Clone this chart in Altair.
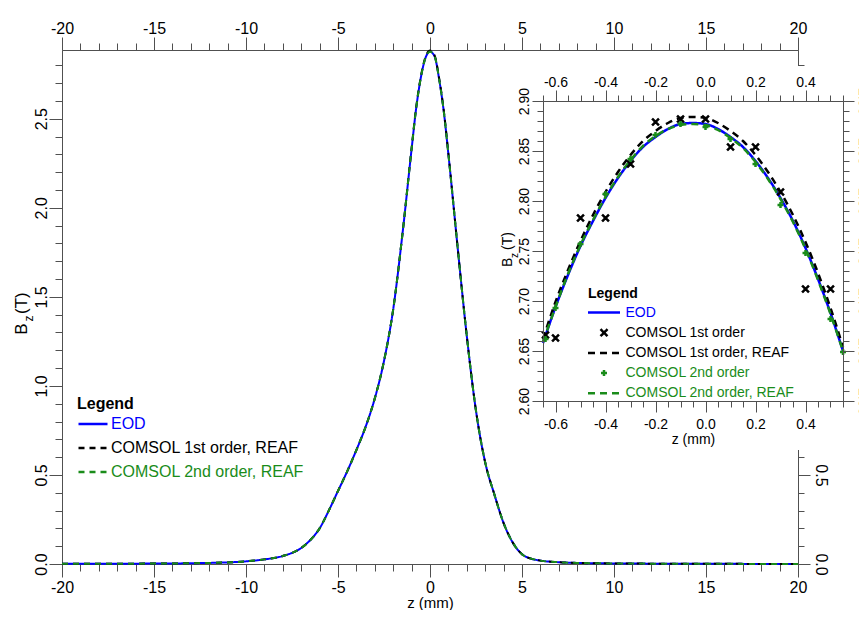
import altair as alt
import pandas as pd

# ---------------- main panel: Bz (T) along z (mm) ----------------
main_z = [-20, -18, -16, -14, -12, -11, -10, -9, -8, -7,
          -6.5, -6, -5.5, -5, -4.5, -4, -3.5, -3, -2.5, -2,
          -1.5, -1, -0.75, -0.5, -0.25, 0, 0.25, 0.5, 0.75, 1,
          1.5, 2, 2.5, 3, 3.5, 4, 4.5, 5, 5.5, 6,
          7, 8, 10, 12, 15, 20]
main_eod = [0.001, 0.001, 0.002, 0.003, 0.006, 0.009, 0.015, 0.026, 0.045, 0.09,
            0.135, 0.2, 0.3, 0.41, 0.52, 0.64, 0.77, 0.93, 1.14, 1.43,
            1.85, 2.33, 2.56, 2.73, 2.84, 2.877, 2.85, 2.72, 2.54, 2.30,
            1.78, 1.28, 0.86, 0.57, 0.39, 0.23, 0.12, 0.055, 0.03, 0.019,
            0.01, 0.006, 0.003, 0.002, 0.001, 0.0005]
main_reaf1 = [0.001, 0.001, 0.002, 0.003, 0.006, 0.009, 0.015, 0.026, 0.045, 0.09,
              0.135, 0.2, 0.3, 0.41, 0.52, 0.64, 0.77, 0.93, 1.14, 1.43,
              1.85, 2.335, 2.565, 2.735, 2.845, 2.883, 2.855, 2.725, 2.545, 2.305,
              1.78, 1.28, 0.86, 0.57, 0.39, 0.23, 0.12, 0.055, 0.03, 0.019,
              0.01, 0.006, 0.003, 0.002, 0.001, 0.0005]
main_reaf2 = [0.001, 0.001, 0.002, 0.003, 0.006, 0.009, 0.015, 0.026, 0.045, 0.09,
              0.135, 0.2, 0.3, 0.41, 0.52, 0.64, 0.77, 0.93, 1.14, 1.43,
              1.85, 2.33, 2.56, 2.73, 2.84, 2.876, 2.85, 2.72, 2.54, 2.30,
              1.78, 1.28, 0.86, 0.57, 0.39, 0.23, 0.12, 0.055, 0.03, 0.019,
              0.01, 0.006, 0.003, 0.002, 0.001, 0.0005]
main_series = ["EOD", "COMSOL 1st order, REAF", "COMSOL 2nd order, REAF"]

# ---------------- inset: zoom on the peak ----------------
inset_z = [-0.65, -0.60, -0.55, -0.50, -0.45, -0.40, -0.35, -0.30, -0.25, -0.20,
           -0.15, -0.10, -0.05, 0.00, 0.05, 0.10, 0.15, 0.20, 0.25, 0.30,
           0.35, 0.40, 0.45, 0.50, 0.55]
inset_eod = [2.658, 2.694, 2.726, 2.755, 2.780, 2.803, 2.823, 2.840, 2.854, 2.864,
             2.872, 2.877, 2.878, 2.877, 2.872, 2.864, 2.854, 2.840, 2.823, 2.803,
             2.780, 2.753, 2.722, 2.688, 2.650]
inset_reaf1 = [2.662, 2.699, 2.731, 2.760, 2.786, 2.809, 2.829, 2.846, 2.860, 2.870,
               2.878, 2.883, 2.884, 2.883, 2.878, 2.870, 2.860, 2.846, 2.829, 2.809,
               2.786, 2.759, 2.728, 2.693, 2.654]
inset_reaf2 = [2.659, 2.694, 2.727, 2.756, 2.781, 2.804, 2.824, 2.841, 2.855, 2.865,
               2.872, 2.876, 2.877, 2.876, 2.871, 2.863, 2.853, 2.839, 2.822, 2.802,
               2.779, 2.752, 2.721, 2.687, 2.650]
c1_z = [-0.64, -0.60, -0.50, -0.40, -0.30, -0.20, -0.10, 0.00, 0.10, 0.20, 0.30, 0.40, 0.50]
c1_b = [2.666, 2.663, 2.783, 2.783, 2.837, 2.879, 2.882, 2.882, 2.854, 2.854, 2.809, 2.712, 2.712]
c2_z = [-0.64, -0.60, -0.50, -0.40, -0.30, -0.20, -0.10, 0.00, 0.10, 0.20, 0.30, 0.40, 0.50, 0.55]
c2_b = [2.662, 2.693, 2.757, 2.807, 2.842, 2.866, 2.877, 2.874, 2.862, 2.837, 2.796, 2.748, 2.682, 2.649]
inset_series = ["EOD", "COMSOL 1st order", "COMSOL 1st order, REAF",
                "COMSOL 2nd order", "COMSOL 2nd order, REAF"]

# axis tick values
main_x_major = [-20, -15, -10, -5, 0, 5, 10, 15, 20]
main_x_minor = list(range(-20, 21))
main_y_major = [0.0, 0.5, 1.0, 1.5, 2.0, 2.5]
main_y_minor = [round(i * 0.1, 1) for i in range(29)]
in_x_major = [-0.6, -0.4, -0.2, 0.0, 0.2, 0.4]
in_x_minor = [round(-0.65 + i * 0.05, 2) for i in range(25)]
in_y_major = [2.60, 2.65, 2.70, 2.75, 2.80, 2.85, 2.90]
in_y_minor = [round(2.60 + i * 0.01, 2) for i in range(31)]

# ---------------- layout / style ----------------
W, H = 736, 514
FONT = "Liberation Sans"
AXC = "#505050"
BLUE = "#0000ff"
GREEN = "#1a8c1a"
BLACK = "#000000"
MINUS = "\u2212"
main_xdom, main_ydom = [-20, 20], [0, 2.886]
in_xdom, in_ydom = [-0.65, 0.55], [2.6, 2.9]
in_xrange, in_yrange = [481, 781], [351, 51]
bg = pd.DataFrame({"x": [-0.87], "x2": [0.70], "y": [2.935], "y2": [2.551]})

# inset symbols (unit = half of sqrt(symbol size) = 6 px)
IN_SIZE = 144
LINE = "M-2.667,0L2.667,0"
XMARK = "M-0.58,-0.58L0.58,0.58M-0.58,0.58L0.58,-0.58"
PLUS = "M-0.5,0L0.5,0M0,-0.5L0,0.5"


def sc(dom, rng=None):
    if rng is None:
        return alt.Scale(domain=dom, nice=False, zero=False)
    return alt.Scale(domain=dom, range=rng, nice=False, zero=False)


def lab(spec):
    return f"replace(format(datum.value, '{spec}'), '{MINUS}', '-')"


def ax(orient, values, tick, labels=False, spec=None, fs=16, pad=2, angle=None,
       offset=0, z=0, domain=True, title=None, **extra):
    d = dict(orient=orient, values=values, tickSize=tick, tickColor=AXC, tickWidth=1,
             domain=domain, domainColor=AXC, domainWidth=1, grid=False, labels=labels,
             offset=offset, zindex=z, title=title)
    if labels:
        d.update(labelExpr=lab(spec), labelFont=FONT, labelFontSize=fs, labelColor="black",
                 labelPadding=pad, labelFlush=False, labelOverlap=False, labelBound=False)
        if angle is not None:
            d.update(labelAngle=angle, labelAlign="center", labelBaseline="bottom")
    d.update(extra)
    return alt.Axis(**d)


def ttl(fs, x, y):
    return dict(titleFont=FONT, titleFontSize=fs, titleFontWeight="normal", titleColor="black",
                titleAngle=270, titleAlign="center", titleBaseline="bottom", titleX=x, titleY=y)


def dummy(xdom, ydom):
    return pd.DataFrame({"x": xdom, "y": ydom})


def legend(x, y, fs, size, roff, tpad, rpad, colors_expr, soff=0):
    return alt.Legend(title="Legend", orient="none", legendX=x, legendY=y, direction="vertical",
                      padding=0, titleFont=FONT, titleFontSize=fs, titleFontWeight="bold",
                      titleColor="black", titlePadding=tpad, titleAnchor="start",
                      labelFont=FONT, labelFontSize=fs, labelColor={"expr": colors_expr},
                      labelOffset=roff, labelLimit=400, rowPadding=rpad, symbolOffset=soff,
                      symbolSize=size, symbolStrokeWidth=2.5, symbolType="stroke")


color_expr = ("datum.value == 'EOD' ? '%s' : (indexof(datum.value, '2nd') >= 0 ? '%s' : '%s')"
              % (BLUE, GREEN, BLACK))

# ---------------- main panel layers ----------------
main_df = pd.DataFrame({
    "z": main_z * 3,
    "B": main_eod + main_reaf1 + main_reaf2,
    "series": [main_series[0]] * len(main_z) + [main_series[1]] * len(main_z)
              + [main_series[2]] * len(main_z),
})
main_leg = legend(15, 346, 16, 841, 2, -4, -1.5, color_expr)

m1 = alt.Chart(main_df).mark_line(strokeWidth=2, interpolate="monotone").encode(
    x=alt.X("z:Q", scale=sc(main_xdom),
            axis=ax("bottom", main_x_major, 13, True, "d", 16, 2, title="z (mm)",
                    titleFont=FONT, titleFontSize=15, titleFontWeight="normal",
                    titleColor="black", titlePadding=0)),
    y=alt.Y("B:Q", scale=sc(main_ydom),
            axis=ax("left", main_y_major, 13, True, ".1f", 16, 0, angle=270,
                    title="B\u00a0\u00a0(T)", **ttl(17, -32, 263))),
    color=alt.Color("series:N", scale=alt.Scale(domain=main_series, range=[BLUE, BLACK, GREEN]),
                    legend=main_leg),
    strokeDash=alt.StrokeDash("series:N",
                              scale=alt.Scale(domain=main_series, range=[[1, 0], [6, 5], [6, 5]]),
                              legend=main_leg),
)

m2 = alt.Chart(dummy(main_xdom, main_ydom)).mark_point(opacity=0, size=1).encode(
    x=alt.X("x:Q", scale=sc(main_xdom), axis=ax("bottom", main_x_minor, 7, domain=False)),
    y=alt.Y("y:Q", scale=sc(main_ydom),
            axis=ax("left", main_y_minor, 7, domain=False, title="z", **ttl(12, -27, 268))),
)
m3 = alt.Chart(dummy(main_xdom, main_ydom)).mark_point(opacity=0, size=1).encode(
    x=alt.X("x:Q", scale=sc(main_xdom), axis=ax("top", main_x_major, 13, True, "d", 16, 1)),
    y=alt.Y("y:Q", scale=sc(main_ydom),
            axis=ax("right", main_y_major, 12, True, ".1f", 16, 2, angle=90)),
)
m4 = alt.Chart(dummy(main_xdom, main_ydom)).mark_point(opacity=0, size=1).encode(
    x=alt.X("x:Q", scale=sc(main_xdom), axis=ax("top", main_x_minor, 7, domain=False)),
    y=alt.Y("y:Q", scale=sc(main_ydom), axis=ax("right", main_y_minor, 6, domain=False)),
)

# ---------------- inset layers ----------------
off_b = in_yrange[0] - H
off_t = -in_yrange[1]
off_l = -in_xrange[0]
off_r = in_xrange[1] - W

i0 = alt.Chart(bg).mark_rect(color="white").encode(
    x=alt.X("x:Q", scale=sc(in_xdom, in_xrange), axis=None),
    x2="x2:Q",
    y=alt.Y("y:Q", scale=sc(in_ydom, in_yrange), axis=None),
    y2="y2:Q",
)

in_lines_series = [inset_series[0], inset_series[2], inset_series[4]]
in_df = pd.DataFrame({
    "z": inset_z * 3,
    "B": inset_eod + inset_reaf1 + inset_reaf2,
    "series": [in_lines_series[0]] * len(inset_z) + [in_lines_series[1]] * len(inset_z)
              + [in_lines_series[2]] * len(inset_z),
})
i1 = alt.Chart(in_df).mark_line(strokeWidth=2.5, interpolate="monotone").encode(
    x=alt.X("z:Q", scale=sc(in_xdom, in_xrange),
            axis=ax("bottom", in_x_major, 11, True, ".1f", 14, 5, offset=off_b, z=1,
                    title="z (mm)", titleFont=FONT, titleFontSize=14, titleFontWeight="normal",
                    titleColor="black", titlePadding=1)),
    y=alt.Y("B:Q", scale=sc(in_ydom, in_yrange),
            axis=ax("left", in_y_major, 11, True, ".2f", 14, 1, angle=270, offset=off_l, z=1,
                    title="B\u00a0\u00a0(T)", **ttl(14, -29, 199))),
    color=alt.Color("series:N", scale=alt.Scale(domain=in_lines_series, range=[BLUE, BLACK, GREEN]),
                    legend=None),
    strokeDash=alt.StrokeDash("series:N",
                              scale=alt.Scale(domain=in_lines_series, range=[[1, 0], [7, 5], [7, 5]]),
                              legend=None),
)

pts_df = pd.DataFrame({
    "z": c1_z + c2_z,
    "B": c1_b + c2_b,
    "series": [inset_series[1]] * len(c1_z) + [inset_series[3]] * len(c2_z),
})
in_leg = legend(526, 237, 14, IN_SIZE, 14, 4, 4.2, color_expr, soff=8.5)
i2 = alt.Chart(pts_df).mark_point(filled=False, strokeWidth=2.5, size=IN_SIZE, opacity=1).encode(
    x=alt.X("z:Q", scale=sc(in_xdom, in_xrange),
            axis=ax("bottom", in_x_minor, 6, domain=False, offset=off_b, z=1)),
    y=alt.Y("B:Q", scale=sc(in_ydom, in_yrange),
            axis=ax("left", in_y_minor, 6, domain=False, offset=off_l, z=1,
                    title="z", **ttl(10, -24, 205))),
    color=alt.Color("series:N",
                    scale=alt.Scale(domain=inset_series, range=[BLUE, BLACK, BLACK, GREEN, GREEN]),
                    legend=in_leg),
    shape=alt.Shape("series:N",
                    scale=alt.Scale(domain=inset_series, range=[LINE, XMARK, LINE, PLUS, LINE]),
                    legend=in_leg),
    strokeDash=alt.StrokeDash("series:N",
                              scale=alt.Scale(domain=inset_series,
                                              range=[[1, 0], [1, 0], [7, 5], [1, 0], [7, 5]]),
                              legend=in_leg),
)
i3 = alt.Chart(dummy(in_xdom, in_ydom)).mark_point(opacity=0, size=1).encode(
    x=alt.X("x:Q", scale=sc(in_xdom, in_xrange),
            axis=ax("top", in_x_major, 11, True, ".1f", 14, 1, offset=off_t, z=1)),
    y=alt.Y("y:Q", scale=sc(in_ydom, in_yrange),
            axis=ax("right", in_y_major, 11, True, ".2f", 14, 1, angle=90, offset=off_r, z=1)),
)
i4 = alt.Chart(dummy(in_xdom, in_ydom)).mark_point(opacity=0, size=1).encode(
    x=alt.X("x:Q", scale=sc(in_xdom, in_xrange),
            axis=ax("top", in_x_minor, 6, domain=False, offset=off_t, z=1)),
    y=alt.Y("y:Q", scale=sc(in_ydom, in_yrange),
            axis=ax("right", in_y_minor, 6, domain=False, offset=off_r, z=1)),
)

chart = alt.layer(m1, m2, m3, m4, i0, i1, i2, i3, i4).resolve_scale(
    x="independent", y="independent", color="independent",
    strokeDash="independent", shape="independent",
).resolve_axis(x="independent", y="independent").properties(
    width=W, height=H,
    padding={"left": 54, "top": 42, "right": 61, "bottom": 46},
    autosize=alt.AutoSizeParams(type="none"),
    background="white",
).configure_view(strokeWidth=0)

chart.save("out.html", embed_options={"renderer": "svg", "actions": False})
